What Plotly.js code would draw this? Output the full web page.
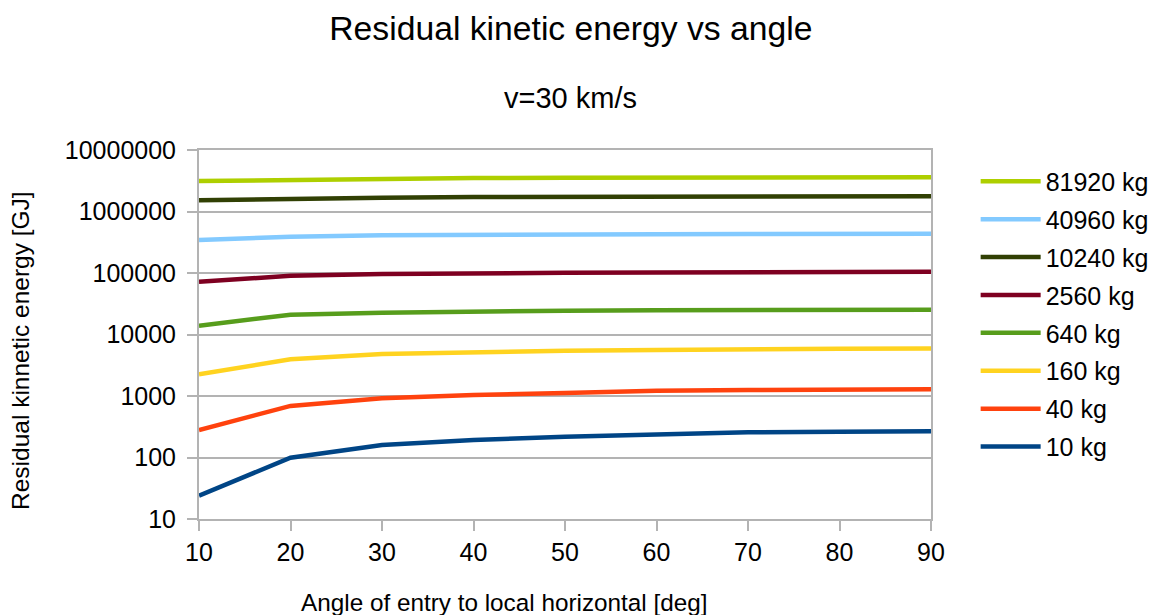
<!DOCTYPE html>
<html>
<head>
<meta charset="utf-8">
<script src="https://cdn.plot.ly/plotly-3.0.1.min.js"></script>
<style>html,body{margin:0;padding:0;background:#fff;}#chart{width:1154px;height:615px;}</style>
</head>
<body>
<div id="chart"></div>
<script>
const angles = [10, 20, 30, 40, 50, 60, 70, 80, 90];
const seriesNames = ["81920 kg", "40960 kg", "10240 kg", "2560 kg", "640 kg", "160 kg", "40 kg", "10 kg"];
const seriesColors = ["#aecf00", "#83caff", "#314004", "#7e0021", "#579d1c", "#ffd320", "#ff420e", "#004586"];
const e81920 = [3130000, 3290000, 3410000, 3500000, 3550000, 3580000, 3600000, 3600000, 3620000];
const e40960 = [344000, 390000, 410000, 420000, 425000, 428000, 430000, 432000, 435000];
const e10240 = [1520000, 1610000, 1680000, 1720000, 1740000, 1750000, 1770000, 1770000, 1770000];
const e2560 = [72000, 90000, 96000, 100000, 101000, 102000, 103000, 104000, 105000];
const e640 = [13900, 21000, 22600, 23800, 24400, 24800, 25000, 25200, 25300];
const e160 = [2250, 3950, 4800, 5200, 5450, 5600, 5800, 5850, 5900];
const e40 = [280, 690, 920, 1040, 1120, 1220, 1250, 1270, 1285];
const e10 = [24, 99, 160, 193, 218, 241, 257, 263, 267];
const seriesValues = [e81920, e40960, e10240, e2560, e640, e160, e40, e10];
const yTickVals = [10, 100, 1000, 10000, 100000, 1000000, 10000000];
const yTickText = ["10", "100", "1000", "10000", "100000", "1000000", "10000000"];
const xTickVals = [10, 20, 30, 40, 50, 60, 70, 80, 90];

const FONT = "Liberation Sans, Arial, sans-serif";
const traces = seriesNames.map((n, i) => ({
  x: angles, y: seriesValues[i], name: n, type: "scatter", mode: "lines",
  legendgroup: "g" + i,
  line: {color: seriesColors[i], width: 4.5}
}));

const layout = {
  width: 1154, height: 615,
  margin: {l: 199, r: 223, t: 150, b: 96, autoexpand: false},
  paper_bgcolor: "#fff", plot_bgcolor: "#fff",
  font: {family: FONT, color: "#000", size: 25},
  title: {text: "Residual kinetic energy vs angle", font: {size: 33.7, color: "#000"},
          x: 0.508, xref: "paper", y: 1 - 28/615, yref: "container", xanchor: "center", yanchor: "middle"},
  annotations: [
    {text: "v=30 km/s", xref: "paper", yref: "paper", x: 0.508, y: (519-98)/369,
     xanchor: "center", yanchor: "middle", showarrow: false, font: {size: 29, color: "#000"}},
    {text: "Angle of entry to local horizontal [deg]", xref: "paper", yref: "paper", x: (504-199)/732, y: (519-602)/369,
     xanchor: "center", yanchor: "middle", showarrow: false, font: {size: 24.3, color: "#000"}},
    {text: "Residual kinnetic energy [GJ]", xref: "paper", yref: "paper", x: (20-199)/732, y: (519-351)/369,
     xanchor: "center", yanchor: "middle", textangle: -90, showarrow: false, font: {size: 24.5, color: "#000"}}
  ],
  xaxis: {
    range: [10, 90], tickvals: xTickVals, ticks: "outside", ticklen: 10, tickcolor: "#b3b3b3", tickwidth: 2,
    showline: true, linecolor: "#b3b3b3", linewidth: 2, mirror: true, showgrid: false, zeroline: false,
    tickfont: {size: 25}
  },
  yaxis: {
    type: "log", range: [1, 7], tickvals: yTickVals, ticktext: yTickText, ticks: "outside", ticklen: 10,
    ticklabelstandoff: 6,
    tickcolor: "#b3b3b3", tickwidth: 2,
    showline: true, linecolor: "#b3b3b3", linewidth: 2, mirror: true, showgrid: true, gridcolor: "#b3b3b3", gridwidth: 2,
    zeroline: false, tickfont: {size: 25}
  },
  legend: {x: 1.061, xanchor: "left", y: 0.977, yanchor: "top", traceorder: "grouped", tracegroupgap: 2.4,
           itemwidth: 60, font: {size: 25}, bgcolor: "rgba(0,0,0,0)"},
  showlegend: true
};

Plotly.newPlot("chart", traces, layout, {displayModeBar: false, staticPlot: true});
</script>
</body>
</html>
